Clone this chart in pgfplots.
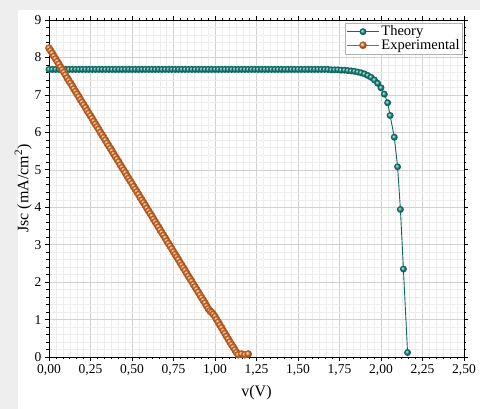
\documentclass[border=0pt]{standalone}
\usepackage{pgfplots}
\pgfplotsset{compat=1.18}
\usepackage{fontspec}
\setmainfont{Liberation Serif}

\definecolor{theory}{RGB}{30,150,140}
\definecolor{theoryline}{RGB}{15,105,98}
\definecolor{expcol}{RGB}{230,125,50}
\definecolor{expline}{RGB}{185,90,30}
\definecolor{bggray}{RGB}{238,238,238}

\begin{document}
\begin{tikzpicture}[x=1pt,y=1pt]
\fill[bggray] (-49,-52) rectangle (431,357);
\fill[white] (-31,-52) rectangle (431,347);
\begin{axis}[
    scale only axis,
    width=415pt, height=337pt,
    xmin=0, xmax=2.5, ymin=0, ymax=9,
    xtick={0,0.25,0.5,0.75,1,1.25,1.5,1.75,2,2.25,2.5},
    ytick={0,1,2,3,4,5,6,7,8,9},
    minor x tick num=5,
    minor y tick num=4,
    grid=both,
    major grid style={gray!35, line width=0.5pt},
    minor grid style={gray!14, line width=0.3pt},
    axis line style={line width=0.8pt},
    tick style={black, line width=0.6pt},
    major tick length=4pt, minor tick length=2.5pt,
    tick align=outside,
    ticklabel style={font=\fontsize{13.5}{15}\selectfont},
    xticklabel style={/pgf/number format/.cd, fixed, fixed zerofill, precision=2, use comma, assume math mode=true},
    yticklabel style={/pgf/number format/.cd, fixed, precision=0, assume math mode=true},
    xlabel={v(V)},
    ylabel={Jsc (mA/cm\textsuperscript{2})},
    label style={font=\fontsize{16}{18}\selectfont},
    xlabel style={yshift=-3pt},
    ylabel style={yshift=-4pt},
    legend style={at={(0.997,0.992)}, anchor=north east, draw=gray!60,
        font=\fontsize{14.5}{16}\selectfont, inner sep=1pt, row sep=-2pt},
    legend cell align=left,
    legend image code/.code={
        \draw[mark repeat=2, mark phase=2] plot coordinates {(0pt,0pt) (16pt,0pt) (32pt,0pt)};
    },
]
\addplot[theoryline, line width=0.9pt, mark=ball, mark size=3pt, mark options={ball color=theory}] coordinates {
(0.00,7.68) (0.02,7.68) (0.04,7.68) (0.06,7.68) (0.08,7.68) (0.10,7.68) (0.12,7.68) (0.14,7.68)
(0.16,7.68) (0.18,7.68) (0.20,7.68) (0.22,7.68) (0.24,7.68) (0.26,7.68) (0.28,7.68) (0.30,7.68)
(0.32,7.68) (0.34,7.68) (0.36,7.68) (0.38,7.68) (0.40,7.68) (0.42,7.68) (0.44,7.68) (0.46,7.68)
(0.48,7.68) (0.50,7.68) (0.52,7.68) (0.54,7.68) (0.56,7.68) (0.58,7.68) (0.60,7.68) (0.62,7.68)
(0.64,7.68) (0.66,7.68) (0.68,7.68) (0.70,7.68) (0.72,7.68) (0.74,7.68) (0.76,7.68) (0.78,7.68)
(0.80,7.68) (0.82,7.68) (0.84,7.68) (0.86,7.68) (0.88,7.68) (0.90,7.68) (0.92,7.68) (0.94,7.68)
(0.96,7.68) (0.98,7.68) (1.00,7.68) (1.02,7.68) (1.04,7.68) (1.06,7.68) (1.08,7.68) (1.10,7.68)
(1.12,7.68) (1.14,7.68) (1.16,7.68) (1.18,7.68) (1.20,7.68) (1.22,7.68) (1.24,7.68) (1.26,7.68)
(1.28,7.68) (1.30,7.68) (1.32,7.68) (1.34,7.68) (1.36,7.68) (1.38,7.68) (1.40,7.68) (1.42,7.68)
(1.44,7.68) (1.46,7.68) (1.48,7.68) (1.50,7.68) (1.52,7.68) (1.54,7.68) (1.56,7.68) (1.58,7.68)
(1.60,7.68) (1.62,7.68) (1.64,7.68) (1.66,7.68) (1.68,7.68) (1.70,7.67) (1.72,7.67) (1.74,7.67)
(1.76,7.66) (1.78,7.66) (1.80,7.65) (1.82,7.64) (1.84,7.63) (1.86,7.61) (1.88,7.59) (1.90,7.56)
(1.92,7.52) (1.94,7.47) (1.96,7.40) (1.98,7.31) (2.00,7.19) (2.02,7.02) (2.04,6.79) (2.055,6.45)
(2.08,5.87) (2.10,5.08) (2.117,3.94) (2.135,2.35) (2.16,0.12)
};
\addlegendentry{Theory}
\addplot[expline, line width=0.8pt, mark=ball, mark size=3.4pt, mark options={ball color=expcol}] coordinates {
(0.00,8.25) (0.01,8.18) (0.02,8.11) (0.03,8.03) (0.04,7.96) (0.05,7.89) (0.06,7.82) (0.07,7.74)
(0.08,7.67) (0.09,7.60) (0.10,7.53) (0.11,7.45) (0.12,7.38) (0.13,7.31) (0.14,7.24) (0.15,7.16)
(0.16,7.09) (0.17,7.02) (0.18,6.95) (0.19,6.87) (0.20,6.80) (0.21,6.73) (0.22,6.66) (0.23,6.58)
(0.24,6.51) (0.25,6.44) (0.26,6.37) (0.27,6.29) (0.28,6.22) (0.29,6.15) (0.30,6.08) (0.31,6.00)
(0.32,5.93) (0.33,5.86) (0.34,5.79) (0.35,5.71) (0.36,5.64) (0.37,5.57) (0.38,5.50) (0.39,5.42)
(0.40,5.35) (0.41,5.28) (0.42,5.21) (0.43,5.13) (0.44,5.06) (0.45,4.99) (0.46,4.92) (0.47,4.84)
(0.48,4.77) (0.49,4.70) (0.50,4.63) (0.51,4.55) (0.52,4.48) (0.53,4.41) (0.54,4.34) (0.55,4.26)
(0.56,4.19) (0.57,4.12) (0.58,4.05) (0.59,3.97) (0.60,3.90) (0.61,3.83) (0.62,3.76) (0.63,3.68)
(0.64,3.61) (0.65,3.54) (0.66,3.47) (0.67,3.39) (0.68,3.32) (0.69,3.25) (0.70,3.18) (0.71,3.10)
(0.72,3.03) (0.73,2.96) (0.74,2.89) (0.75,2.81) (0.76,2.74) (0.77,2.67) (0.78,2.60) (0.79,2.52)
(0.80,2.45) (0.81,2.38) (0.82,2.31) (0.83,2.23) (0.84,2.16) (0.85,2.09) (0.86,2.02) (0.87,1.94)
(0.88,1.87) (0.89,1.80) (0.90,1.73) (0.91,1.65) (0.92,1.58) (0.93,1.51) (0.94,1.44) (0.95,1.36)
(0.96,1.29) (0.97,1.23) (0.98,1.19) (0.99,1.14) (1.00,1.08) (1.01,1.00) (1.02,0.93) (1.03,0.85)
(1.04,0.78) (1.05,0.70) (1.06,0.63) (1.07,0.55) (1.08,0.48) (1.09,0.40) (1.10,0.33) (1.11,0.26)
(1.12,0.19) (1.13,0.12) (1.14,0.06) (1.16,0.08) (1.18,0.06) (1.20,0.08)
};
\addlegendentry{Experimental}
\end{axis}
\pgfresetboundingbox
\useasboundingbox (-49,-52) rectangle (431,357);
\end{tikzpicture}
\end{document}
